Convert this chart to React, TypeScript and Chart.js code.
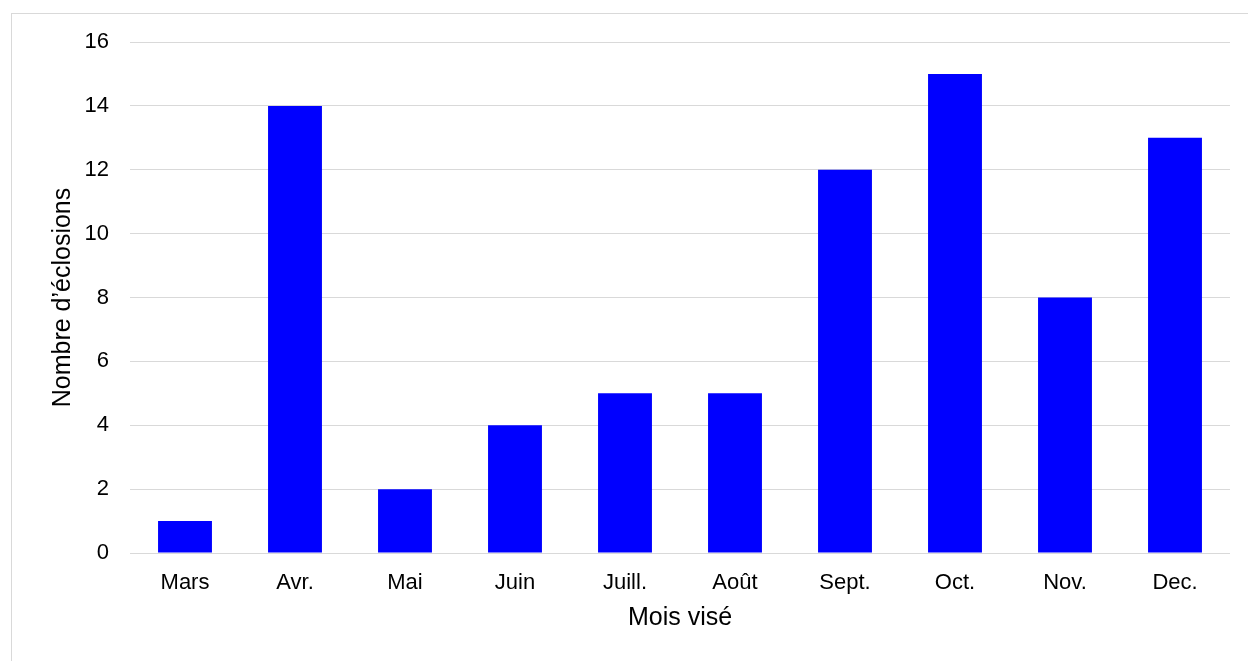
import React, { useEffect, useRef } from "react";
import { Chart, registerables } from "chart.js";

Chart.register(...registerables);

const categories = ["Mars", "Avr.", "Mai", "Juin", "Juill.", "Août", "Sept.", "Oct.", "Nov.", "Dec."];
const eclosions = [1, 14, 2, 4, 5, 5, 12, 15, 8, 13];
const yTitle = "Nombre d’éclosions";
const xTitle = "Mois visé";

const W = 1248;
const H = 661;
const FONT = "'Liberation Sans', Arial, sans-serif";

export default function App() {
  const ref = useRef<HTMLCanvasElement | null>(null);

  useEffect(() => {
    if (!ref.current) return;
    const chart = new Chart(ref.current, {
      type: "bar",
      data: {
        labels: categories,
        datasets: [
          {
            data: eclosions,
            backgroundColor: "#0000ff",
            borderWidth: 0,
            barPercentage: 0.49,
            categoryPercentage: 1,
          },
        ],
      },
      options: {
        responsive: false,
        animation: false,
        devicePixelRatio: 1,
        layout: { padding: { top: 42, right: 18, bottom: 0, left: 0 } },
        plugins: { legend: { display: false }, tooltip: { enabled: false } },
        scales: {
          x: {
            grid: { display: false, drawTicks: false },
            border: { display: false },
            ticks: {
              color: "#000",
              font: { family: FONT, size: 22 },
              padding: 17,
              maxRotation: 0,
            },
            title: {
              display: true,
              text: xTitle,
              color: "#000",
              font: { family: FONT, size: 25, lineHeight: 1.2 },
              padding: { top: 0, bottom: 28 },
            },
            afterFit: (s: any) => {
              s.height = 108;
            },
          },
          y: {
            min: 0,
            max: 16,
            ticks: {
              stepSize: 2,
              color: "#000",
              font: { family: FONT, size: 22 },
              padding: 21,
            },
            grid: { color: "#d9d9d9", lineWidth: 1, drawTicks: false },
            border: { display: false },
            title: {
              display: true,
              text: yTitle,
              color: "#000",
              font: { family: FONT, size: 25, lineHeight: 1.2 },
              padding: { top: 48, bottom: 0 },
            },
            afterFit: (s: any) => {
              s.width = 130;
            },
          },
        },
      },
    });
    return () => chart.destroy();
  }, []);

  return (
    <>
      <div
        style={{
          position: "fixed",
          left: 0,
          top: 0,
          width: W,
          height: H,
          background: "#fff",
        }}
      />
      <div
        style={{
          position: "fixed",
          left: 11,
          top: 13,
          width: W + 40,
          height: H + 40,
          border: "1px solid #d9d9d9",
          boxSizing: "border-box",
        }}
      />
      <canvas
        ref={ref}
        width={W}
        height={H}
        style={{ position: "fixed", left: 0, top: 0, width: W, height: H }}
      />
    </>
  );
}
